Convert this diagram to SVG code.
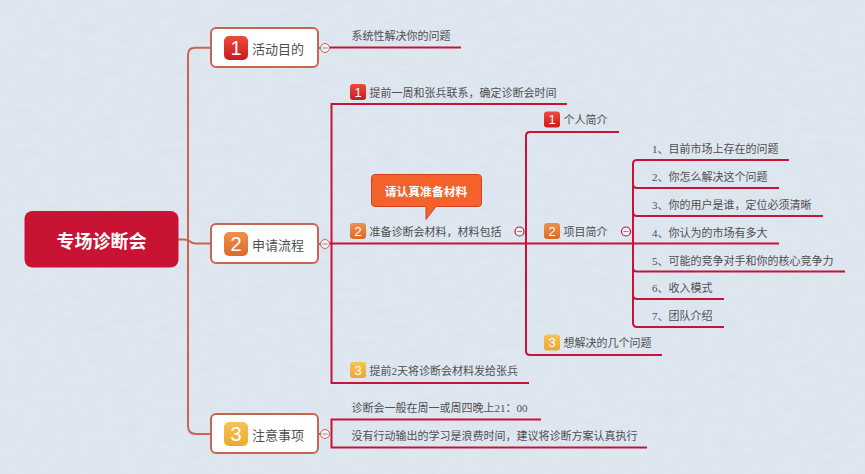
<svg xmlns="http://www.w3.org/2000/svg" width="865" height="474" viewBox="0 0 865 474">
<style>
text{font-family:"Liberation Serif","Noto Sans CJK SC",serif;fill:#505050}
.s{font-size:11px;font-weight:400}
.t{font-size:13px;font-weight:400}
.i{font-family:"Liberation Sans",sans-serif;font-weight:400;fill:#fff;text-anchor:middle}
.box{fill:#fff;stroke:#c9654e;stroke-width:2}
.o{fill:none;stroke:#c9654e;stroke-width:2}
.r{fill:none;stroke:#c81335;stroke-width:2}
.c1{fill:#eef2f7;stroke:#c9654e;stroke-width:1}
.c2{fill:#eef2f7;stroke:#c81335;stroke-width:1.2}
.m{stroke:#8a8a9a;stroke-width:1}
</style>
<defs>
<linearGradient id="g1" x1="0" y1="0" x2="0" y2="1"><stop offset="0" stop-color="#ee4a3c"/><stop offset="1" stop-color="#cc1a1e"/></linearGradient>
<linearGradient id="g2" x1="0" y1="0" x2="0" y2="1"><stop offset="0" stop-color="#ef9148"/><stop offset="1" stop-color="#dd6a2a"/></linearGradient>
<linearGradient id="g3" x1="0" y1="0" x2="0" y2="1"><stop offset="0" stop-color="#f6c456"/><stop offset="1" stop-color="#eca92e"/></linearGradient>
<filter id="n" x="0" y="0" width="100%" height="100%"><feTurbulence type="fractalNoise" baseFrequency="0.05 0.12" numOctaves="3" seed="4"/><feColorMatrix values="0 0 0 0 0.5 0 0 0 0 0.55 0 0 0 0 0.65 0.35 0 0 0 -0.1"/></filter>
</defs>
<rect width="865" height="474" fill="#dfe7f1"/>
<rect width="865" height="474" filter="url(#n)" opacity=".5"/>

<g id="connectors">
<path class="o" d="M178 239.500H184Q188 239.500 190 241.500Q192 243.500 196 243.500H211"/>
<path class="o" d="M211 47.700H195Q188 47.700 188 55V426Q188 434 196 434H211"/>
<path class="o" d="M318 48H321M318 244H321M318 434H321"/>
<path class="r" d="M329 47.500H461"/>
<path class="r" d="M567 104H331.500V383H529"/>
<path class="r" d="M329 243.500H633"/>
<path class="r" d="M619 132H530Q526 132 526 136V351Q526 355 530 355H662"/>
<path class="r" d="M789 160H637Q633 160 633 164V323Q633 327 637 327H724"/>
<path class="r" d="M633 184Q633 188 637 188H779M633 212Q633 216 637 216H823M633 243.500H779M633 267.500Q633 271.500 637 271.500H845M633 295Q633 299 637 299H724"/>
<path class="r" d="M541 419.500H331.500V447.500H647"/>
</g>

<g id="central"><rect x="24.500" y="211" width="154" height="56.500" rx="8" fill="#c81335"/>
<text x="101.500" y="248" font-size="18" font-weight="700" text-anchor="middle" style="fill:#fff">专场诊断会</text></g>

<g id="topic1"><rect class="box" x="211" y="28" width="107" height="39" rx="5"/>
<rect x="224" y="36" width="24" height="24" rx="5" fill="url(#g1)"/><text class="i" x="236" y="55" font-size="20">1</text>
<text class="t" x="252" y="53.500">活动目的</text><circle class="c1" cx="325" cy="48" r="4.500"/><path class="m" d="M322.500 48H327.500"/></g>

<g id="topic2"><rect class="box" x="211" y="224" width="107" height="39" rx="5"/>
<rect x="224" y="232" width="24" height="24" rx="5" fill="url(#g2)"/><text class="i" x="236" y="251" font-size="20">2</text>
<text class="t" x="252" y="249.500">申请流程</text><circle class="c1" cx="325" cy="244" r="4.500"/><path class="m" d="M322.500 244H327.500"/></g>

<g id="topic3"><rect class="box" x="211" y="414" width="107" height="39" rx="5"/>
<rect x="224" y="422" width="24" height="24" rx="5" fill="url(#g3)"/><text class="i" x="236" y="441" font-size="20">3</text>
<text class="t" x="252" y="439.500">注意事项</text><circle class="c1" cx="325" cy="434" r="4.500"/><path class="m" d="M322.500 434H327.500"/></g>

<g id="n1-1"><text class="s" x="351.500" y="40">系统性解决你的问题</text></g>

<g id="n2-1"><rect x="350" y="84" width="16" height="16" rx="3" fill="url(#g1)"/><text class="i" x="358" y="96.500" font-size="13">1</text><text class="s" x="369.500" y="96.500">提前一周和张兵联系，确定诊断会时间</text></g>

<g id="callout"><path d="M375 174.500H478Q481.500 174.500 481.500 178V203Q481.500 206.500 478 206.500H436L426 219.500V206.500H375Q371.500 206.500 371.500 203V178Q371.500 174.500 375 174.500Z" fill="#f4622c" stroke="#d2401f"/>
<text x="426" y="195.500" font-size="11.800" font-weight="700" text-anchor="middle" style="fill:#fff">请认真准备材料</text></g>

<g id="n2-2"><rect x="350" y="223" width="16" height="16" rx="3" fill="url(#g2)"/><text class="i" x="358" y="235.500" font-size="13">2</text><text class="s" x="369.500" y="236">准备诊断会材料，材料包括</text><circle class="c2" cx="519.500" cy="231.500" r="4.500"/><path class="m" d="M517 231.500H522"/></g>

<g id="n2-3"><rect x="350" y="362" width="16" height="16" rx="3" fill="url(#g3)"/><text class="i" x="358" y="374.500" font-size="13">3</text><text class="s" x="369.500" y="375">提前2天将诊断会材料发给张兵</text></g>

<g id="n3-1"><rect x="544" y="111.500" width="16" height="16" rx="3" fill="url(#g1)"/><text class="i" x="552" y="124" font-size="13">1</text><text class="s" x="563.500" y="124">个人简介</text></g>

<g id="n3-2"><rect x="544" y="223" width="16" height="16" rx="3" fill="url(#g2)"/><text class="i" x="552" y="235.500" font-size="13">2</text><text class="s" x="563.500" y="236">项目简介</text><circle class="c2" cx="626" cy="231.500" r="4.500"/><path class="m" d="M623.500 231.500H628.500"/></g>

<g id="n3-3"><rect x="544" y="334.500" width="16" height="16" rx="3" fill="url(#g3)"/><text class="i" x="552" y="347" font-size="13">3</text><text class="s" x="563.500" y="347">想解决的几个问题</text></g>

<g id="list">
<text class="s" x="652" y="153">1、目前市场上存在的问题</text>
<text class="s" x="652" y="181">2、你怎么解决这个问题</text>
<text class="s" x="652" y="209">3、你的用户是谁，定位必须清晰</text>
<text class="s" x="652" y="236.500">4、你认为的市场有多大</text>
<text class="s" x="652" y="264.500">5、可能的竞争对手和你的核心竞争力</text>
<text class="s" x="652" y="292">6、收入模式</text>
<text class="s" x="652" y="320">7、团队介绍</text>
</g>

<g id="n4"><text class="s" x="351.500" y="412">诊断会一般在周一或周四晚上21：00</text>
<text class="s" x="351.500" y="440">没有行动输出的学习是浪费时间，建议将诊断方案认真执行</text></g>
</svg>
